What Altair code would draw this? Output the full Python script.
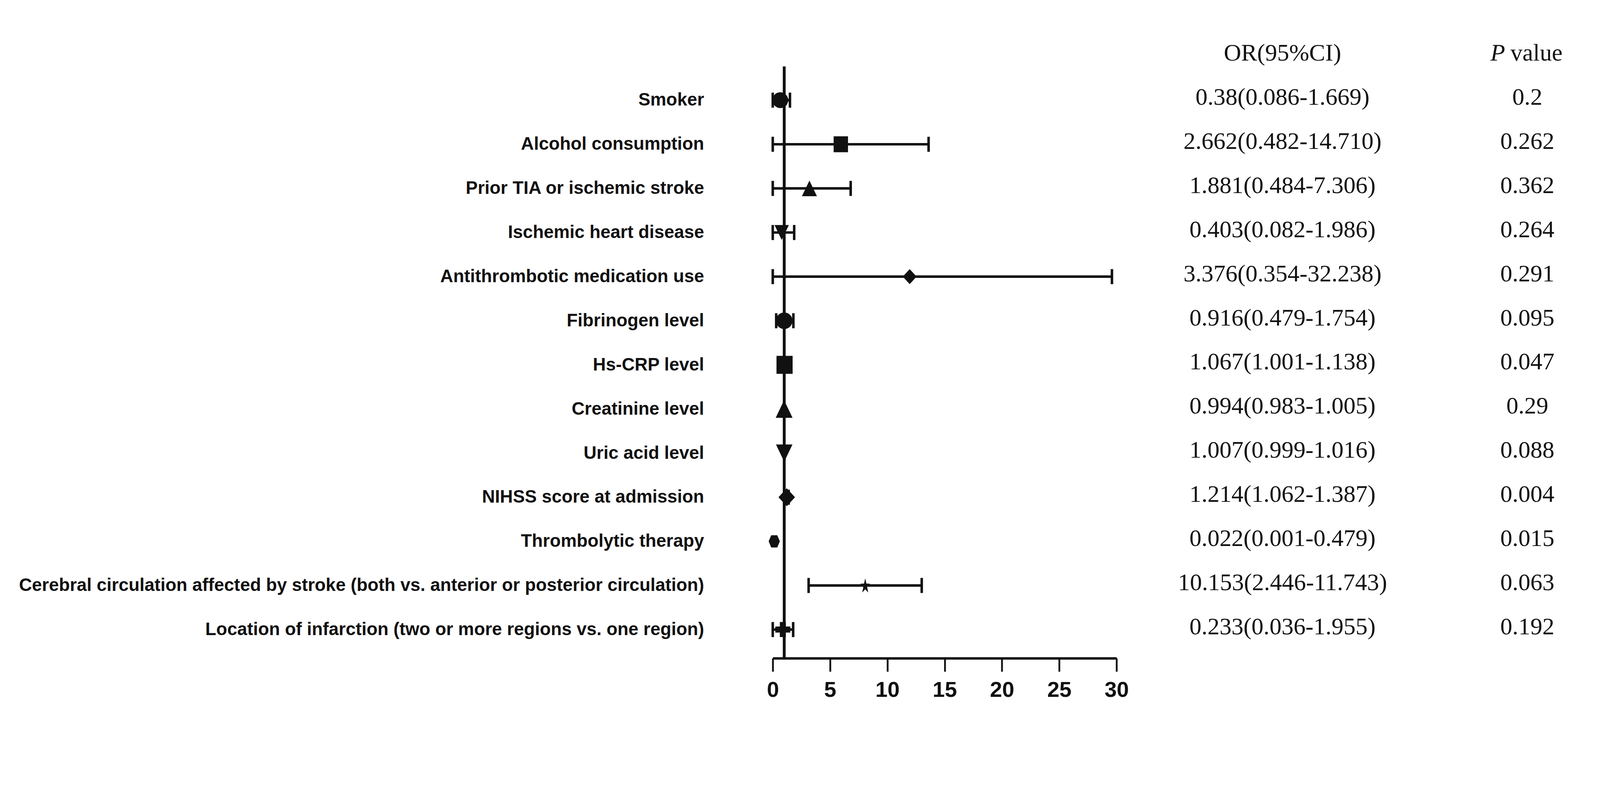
import json
import math

import altair as alt
import pandas as pd


LABELS = [
    "Smoker",
    "Alcohol consumption",
    "Prior TIA or ischemic stroke",
    "Ischemic heart disease",
    "Antithrombotic medication use",
    "Fibrinogen level",
    "Hs-CRP level",
    "Creatinine level",
    "Uric acid level",
    "NIHSS score at admission",
    "Thrombolytic therapy",
    "Cerebral circulation affected by stroke (both vs. anterior or posterior circulation)",
    "Location of infarction (two or more regions vs. one region)",
]

# point estimate and whiskers as drawn in the plot
OR_PLOT = [0.66, 5.94, 3.2, 0.78, 11.95, 1.0, 1.03, 0.99, 1.0, 1.22, 0.13, 8.07, 0.88]
LOW_PLOT = [0.0, 0.0, 0.0, 0.0, 0.0, 0.3, 1.001, 0.983, 0.999, 1.062, None, 3.13, 0.0]
HIGH_PLOT = [1.5, 13.6, 6.8, 1.87, 29.6, 1.8, 1.138, 1.005, 1.016, 1.387, None, 13.0, 1.78]

OR_TEXT = [
    "0.38(0.086-1.669)",
    "2.662(0.482-14.710)",
    "1.881(0.484-7.306)",
    "0.403(0.082-1.986)",
    "3.376(0.354-32.238)",
    "0.916(0.479-1.754)",
    "1.067(1.001-1.138)",
    "0.994(0.983-1.005)",
    "1.007(0.999-1.016)",
    "1.214(1.062-1.387)",
    "0.022(0.001-0.479)",
    "10.153(2.446-11.743)",
    "0.233(0.036-1.955)",
]
P_TEXT = ["0.2", "0.262", "0.362", "0.264", "0.291", "0.095", "0.047",
          "0.29", "0.088", "0.004", "0.015", "0.063", "0.192"]

X_TICKS = [0, 5, 10, 15, 20, 25, 30]
NULL_OR = 1

INK = "#111111"
SANS = "Liberation Sans, Arial, sans-serif"
SERIF = "Liberation Serif, Times New Roman, serif"


def star_path(points=5, inner=0.4, squeeze=0.65):
    coords = []
    for k in range(points * 2):
        r = 1 if k % 2 == 0 else inner
        a = math.radians(-90 + k * 180 / points)
        coords.append(f"{r * math.cos(a) * squeeze:.3f},{r * math.sin(a) + 0.09:.3f}")
    return "M" + "L".join(coords) + "Z"


SQUARE = "M-0.9,-1H0.9V1H-0.9Z"
TRI_UP = "M0,-1L0.96,1H-0.96Z"
TRI_DOWN = "M0,1L0.96,-1H-0.96Z"
DIAMOND = "M0,-1L0.92,0L0,1L-0.92,0Z"
HEXAGON = "M-0.92,0L-0.5,-1H0.5L0.92,0L0.5,1H-0.5Z"
CAP = "M0,-1V1"

MARKER_SHAPES = ["circle", SQUARE, TRI_UP, TRI_DOWN, DIAMOND,
                 "circle", SQUARE, TRI_UP, TRI_DOWN, DIAMOND,
                 HEXAGON, star_path(), "cross"]
MARKER_SIZES = [1950, 1980, 1900, 1750, 1750,
                2150, 2500, 2400, 2300, 2500,
                1150, 1900, 1764]

rows = list(range(1, len(LABELS) + 1))
forest = pd.DataFrame({
    "row": rows,
    "or": OR_PLOT,
    "low": LOW_PLOT,
    "high": HIGH_PLOT,
    "shape": MARKER_SHAPES,
    "size": MARKER_SIZES,
})
table = pd.DataFrame({
    "row": rows * 2,
    "column": ["or"] * len(rows) + ["p"] * len(rows),
    "text": OR_TEXT + P_TEXT,
})

x_scale = alt.Scale(domain=[X_TICKS[0], X_TICKS[-1]], nice=False, zero=False)
x_axis = alt.Axis(
    values=X_TICKS, title=None, grid=False,
    domainWidth=7, domainColor=INK,
    tickSize=37, tickWidth=5, tickColor=INK,
    labelFont=SANS, labelFontSize=61, labelFontWeight="bold", labelColor=INK,
    labelPadding=22, labelFlush=False, labelOverlap=False,
)
y_scale = alt.Scale(domain=[rows[0] - 0.764, rows[-1] + 0.65], reverse=True, nice=False, zero=False)
y_axis = alt.Axis(
    values=rows, title=None, grid=False, domain=False, ticks=False,
    labelExpr=f"{json.dumps(LABELS)}[datum.value - 1]",
    labelFont=SANS, labelFontSize=50, labelFontWeight="bold", labelColor=INK,
    labelPadding=192, labelLimit=4000,
)
Y = alt.Y("row:Q", scale=y_scale, axis=y_axis)


def X(field):
    return alt.X(field, scale=x_scale, axis=x_axis)


ref_line = (
    alt.Chart(pd.DataFrame({"ref": [NULL_OR]}))
    .mark_rule(color=INK, strokeWidth=8)
    .encode(x=X("ref:Q"))
)
whiskers = (
    alt.Chart(forest)
    .mark_rule(color=INK, strokeWidth=7)
    .encode(x=X("low:Q"), x2="high:Q", y=Y)
)
caps = (
    alt.Chart(forest)
    .transform_fold(["low", "high"], as_=["end", "value"])
    .mark_point(shape=CAP, filled=False, color=INK, strokeWidth=7, size=1764, opacity=1)
    .encode(x=X("value:Q"), y=Y)
)
markers = (
    alt.Chart(forest)
    .mark_point(filled=True, color=INK, opacity=1, strokeWidth=0)
    .encode(
        x=X("or:Q"),
        y=Y,
        shape=alt.Shape("shape:N", scale=None),
        size=alt.Size("size:Q", scale=None),
    )
)
plot = alt.layer(ref_line, whiskers, caps, markers)

col_x = alt.X("column:N", scale=alt.Scale(type="point", domain=["or", "p"], range=[1422, 2105], padding=0), axis=None)

values = (
    alt.Chart(table)
    .mark_text(font=SERIF, fontSize=67, color=INK, baseline="middle", dy=-7)
    .encode(x=col_x, y=Y, text="text:N")
)
head_or = (
    alt.Chart(pd.DataFrame({"row": [0], "column": ["or"], "text": ["OR(95%CI)"]}))
    .mark_text(font=SERIF, fontSize=67, color=INK, baseline="middle", dy=-7)
    .encode(x=col_x, y=Y, text="text:N")
)
head_p = (
    alt.Chart(pd.DataFrame({"row": [0], "column": ["p"], "text": ["P"]}))
    .mark_text(font=SERIF, fontSize=67, fontStyle="italic", color=INK, baseline="middle", align="right", dx=-62, dy=-7)
    .encode(x=col_x, y=Y, text="text:N")
)
head_value = (
    alt.Chart(pd.DataFrame({"row": [0], "column": ["p"], "text": ["value"]}))
    .mark_text(font=SERIF, fontSize=67, color=INK, baseline="middle", align="left", dx=-47, dy=-7)
    .encode(x=col_x, y=Y, text="text:N")
)
text_cols = alt.layer(values, head_or, head_p, head_value)

chart = (
    alt.layer(plot, text_cols)
    .resolve_scale(x="independent")
    .properties(
        width=959,
        height=1650,
        autosize=alt.AutoSizeParams(type="none"),
        padding={"left": 2147, "top": 90, "right": 1340, "bottom": 190},
        background="white",
    )
    .configure_view(stroke=None)
)

chart.save("out.html", embed_options={"renderer": "svg", "actions": False})
